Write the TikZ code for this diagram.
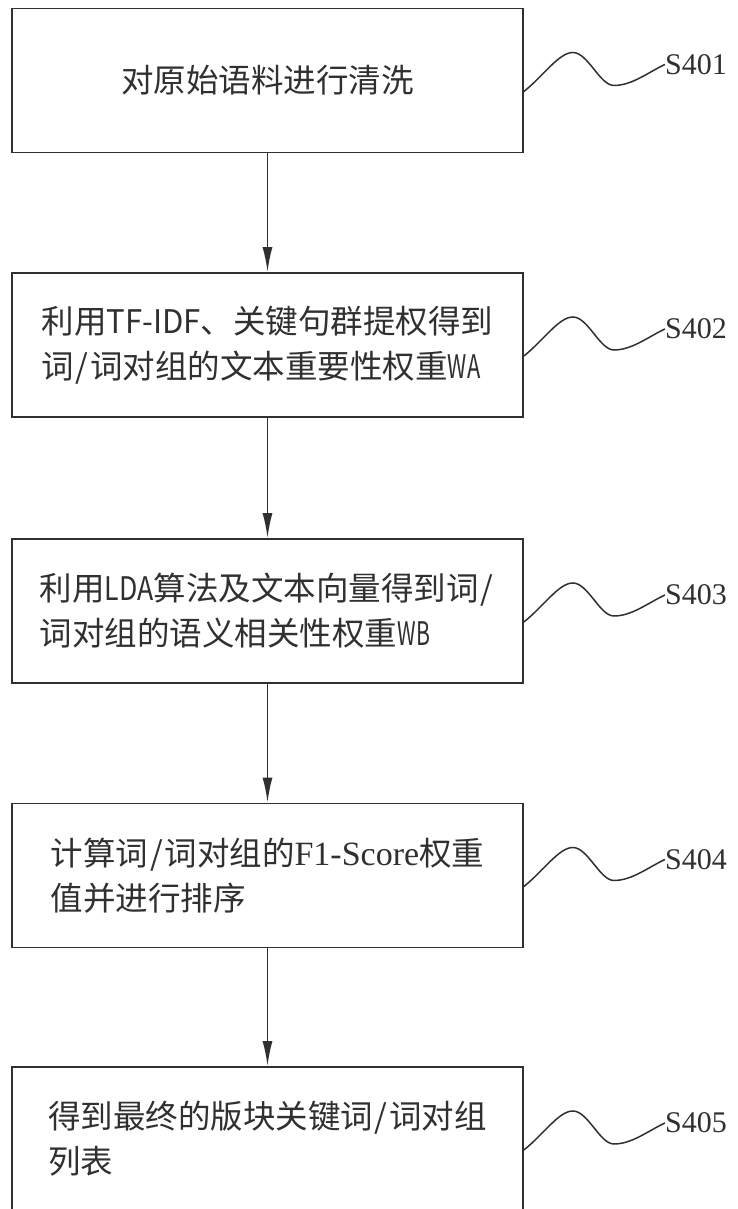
\documentclass[tikz,border=0pt]{standalone}
\usepackage{fontspec}
\setmainfont{Liberation Serif}
\newfontfamily\cjk{Noto Sans CJK SC}
\usetikzlibrary{arrows.meta}
\definecolor{ink}{HTML}{303030}
% half-width Latin runs set to a fixed width, and a half-width slash
\newcommand\hwrun[2]{\resizebox{#1em}{\height}{#2}}
\newcommand\hsl{\makebox[0.5em]{/}}
\newcommand\serifrun[1]{{\rmfamily\fontsize{34bp}{45bp}\selectfont #1}}
\tikzset{
  stepbox/.style={draw=ink, line width=1.8bp, minimum width=511bp, minimum height=144bp,
    inner sep=0pt, align=left, text=ink, font=\cjk\fontsize{32.5bp}{45bp}\selectfont},
  flow/.style={draw=ink, line width=1.8bp, -{Latex[length=25bp,width=10bp]}},
  tag/.style={anchor=west, inner sep=0pt, text=ink, font=\rmfamily\fontsize{30bp}{34bp}\selectfont},
  wave/.style={draw=ink, line width=1.5bp}
}
\begin{document}
\begin{tikzpicture}[x=1bp,y=1bp]
\useasboundingbox (0,0) rectangle (738,1209);
\fill[white] (0,0) rectangle (738,1209);

% process steps
\node[stepbox] (b1) at (267.5,1128.5) {对原始语料进行清洗};
\node[stepbox] (b2) at (267.5,864) {利用\hwrun{2.9}{TF-IDF}、关键句群提权得到\\词\hsl 词对组的文本重要性权重\hwrun{1}{WA}};
\node[stepbox] (b3) at (267.5,598) {利用\hwrun{1.5}{LDA}算法及文本向量得到词\hsl\\词对组的语义相关性权重\hwrun{1}{WB}};
\node[stepbox] (b4) at (267.5,333.5) {计算词\hsl 词对组的\serifrun{F1-Score}权重\\值并进行排序};
\node[stepbox] (b5) at (267.5,70) {得到最终的版块关键词\hsl 词对组\\列表};

% flow arrows
\draw[flow] (b1.south) -- (b2.north);
\draw[flow] (b2.south) -- (b3.north);
\draw[flow] (b3.south) -- (b4.north);
\draw[flow] (b4.south) -- (b5.north);

% step labels with wavy leaders
\foreach \i/\lab in {1/S401,2/S402,3/S403,4/S404,5/S405}{
  \coordinate (w\i) at ([yshift=-11bp]b\i.east);
  \begin{scope}[shift={(w\i)}]
    \node[tag] (l\i) at (141,27) {\lab};
    \draw[wave] (w\i) .. controls (20,16) and (35,39) .. (49,39)
      .. controls (64,39) and (76,6) .. (90,6)
      .. controls (108,6) and (124,19) .. (l\i.west);
  \end{scope}
}
\end{tikzpicture}
\end{document}
